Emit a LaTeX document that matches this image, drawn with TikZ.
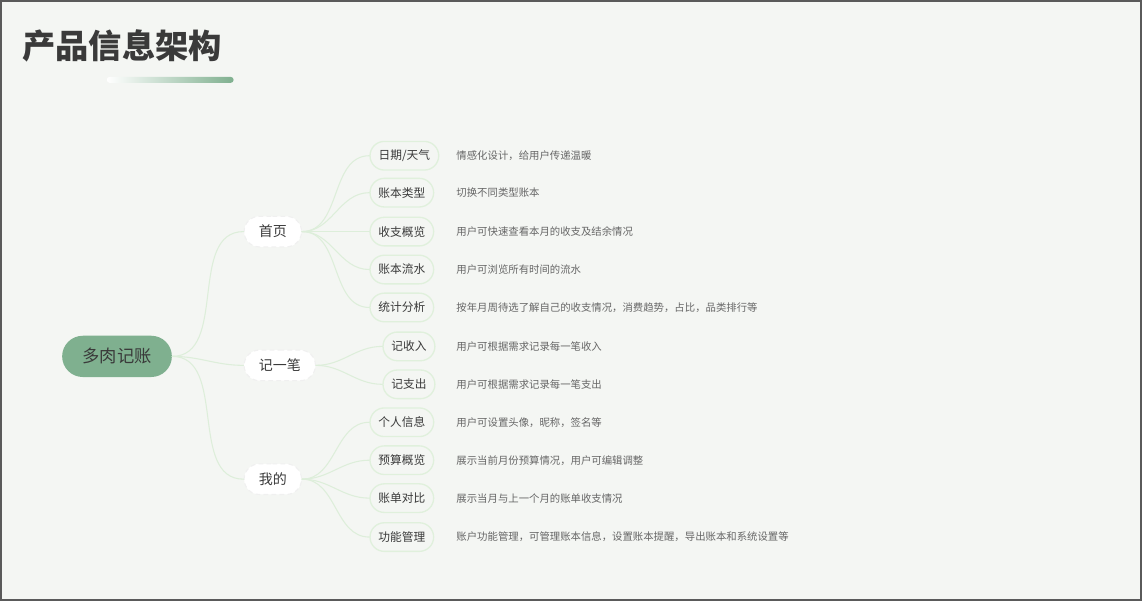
\documentclass[tikz,border=0pt]{standalone}
\usepackage{fontspec}
\setmainfont{Noto Sans CJK SC}
\usetikzlibrary{shapes.misc}
\definecolor{bgc}{HTML}{F4F6F3}
\definecolor{framec}{HTML}{5A5A5A}
\definecolor{rootc}{HTML}{7FB08F}
\definecolor{inkc}{HTML}{3A3A3A}
\definecolor{descc}{HTML}{666666}
\definecolor{linkc}{HTML}{DDEEDA}
\definecolor{pillc}{HTML}{E0F0DC}

\begin{document}
\begin{tikzpicture}[x=0.75pt, y=-0.75pt, line cap=round,
  rootnode/.style={rounded rectangle, fill=rootc, text=inkc, font=\fontsize{13}{15}\selectfont,
    minimum height=31pt, inner xsep=14pt, anchor=west},
  catnode/.style={rounded rectangle, fill=white, draw=black!6, dashed, line width=0.8pt, text=inkc,
    font=\fontsize{10.5}{12}\selectfont, minimum height=23pt, inner xsep=10pt, anchor=west},
  itemnode/.style={rounded rectangle, fill=bgc, draw=pillc, line width=1pt, text=inkc,
    font=\fontsize{8.8}{10}\selectfont, minimum height=21.5pt, inner xsep=5.5pt, anchor=west},
  descnode/.style={text=descc, font=\fontsize{7.8}{9}\selectfont, anchor=west, inner sep=0pt},
  branch/.style={linkc, line width=0.8pt}]

  % page and frame
  \fill[bgc] (0,0) rectangle (1142,600);
  \draw[framec, line width=1.5pt] (0,0) rectangle (1142,600);
  \useasboundingbox (0,0) rectangle (1142,600);

  % heading
  \node[anchor=west, inner sep=0pt, text=inkc, font=\fontsize{25}{28}\selectfont\bfseries]
    (title) at (21,45) {产品信息架构};
  \shade[left color=white, right color=rootc, rounded corners=2.2pt] (106,76) rectangle (233,82);

  % root and categories
  \node[rootnode] (root) at (61,356) {多肉记账};
  \node[catnode] (home)   at (243,231) {首页};
  \node[catnode] (record) at (243,365) {记一笔};
  \node[catnode] (mine)   at (243,479) {我的};
  \foreach \c in {home, record, mine}
    \draw[branch] (root.east) to[out=0, in=180] (\c.west);

  % leaves with their notes
  \foreach \k/\p/\x/\y/\t/\d in {
      1/home/369/155/{日期/天气}/情感化设计，给用户传递温暖,
      2/home/369/192/账本类型/切换不同类型账本,
      3/home/369/231/收支概览/用户可快速查看本月的收支及结余情况,
      4/home/369/269/账本流水/用户可浏览所有时间的流水,
      5/home/369/307/统计分析/按年月周待选了解自己的收支情况，消费趋势，占比，品类排行等,
      6/record/382/346/记收入/用户可根据需求记录每一笔收入,
      7/record/382/384/记支出/用户可根据需求记录每一笔支出,
      8/mine/369/422/个人信息/用户可设置头像，昵称，签名等,
      9/mine/369/460/预算概览/展示当前月份预算情况，用户可编辑调整,
      10/mine/369/498/账单对比/展示当月与上一个月的账单收支情况,
      11/mine/369/537/功能管理/账户功能管理，可管理账本信息，设置账本提醒，导出账本和系统设置等}{
    \node[itemnode] (item\k) at (\x,\y) {\t};
    \node[descnode] (note\k) at (456,\y) {\d};
    \draw[branch] (\p.east) to[out=0, in=180] (item\k.west);
  }
\end{tikzpicture}
\end{document}
